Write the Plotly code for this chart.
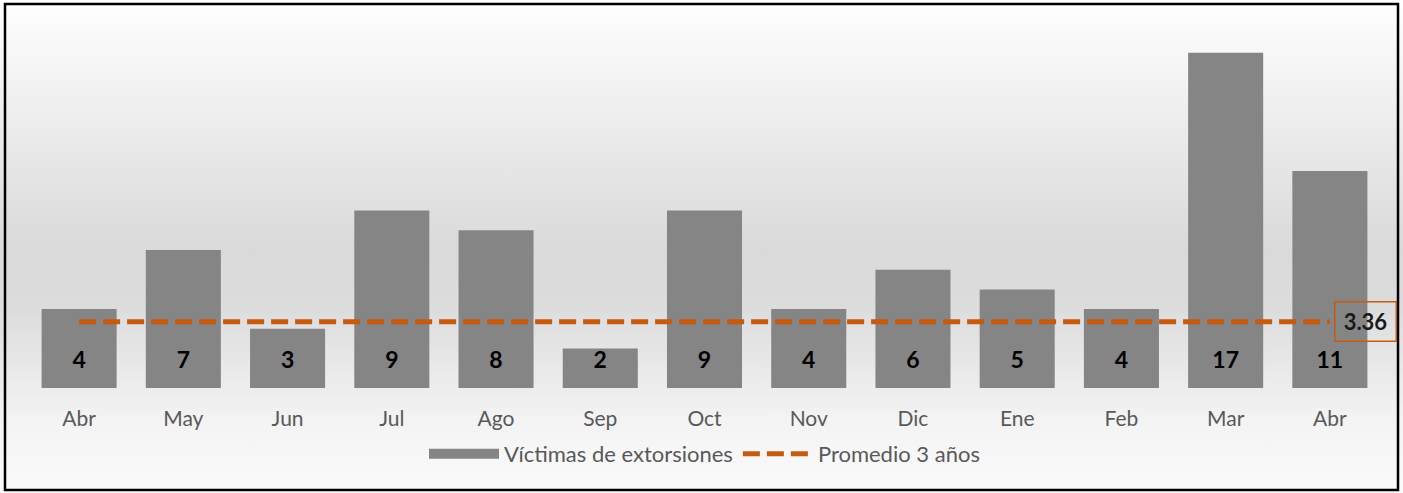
import plotly.graph_objects as go
import urllib.parse

months = ["Abr", "May", "Jun", "Jul", "Ago", "Sep", "Oct", "Nov", "Dic", "Ene", "Feb", "Mar", "Abr"]
victims = [4, 7, 3, 9, 8, 2, 9, 4, 6, 5, 4, 17, 11]
average = 3.36

W, H = 1403, 493
ml, mr, mt, mb = 27, 21, 33, 105
pw, ph = W - ml - mr, H - mt - mb

xs = list(range(len(months)))
GRAY = "#858585"
ORANGE = "#C55A11"

svg = (
    "<svg xmlns='http://www.w3.org/2000/svg' width='1403' height='493' preserveAspectRatio='none'>"
    "<defs><linearGradient id='g' x1='0' y1='0' x2='0' y2='1'>"
    "<stop offset='0' stop-color='#ffffff'/>"
    "<stop offset='0.5' stop-color='#dadada'/>"
    "<stop offset='0.62' stop-color='#dcdcdc'/>"
    "<stop offset='0.85' stop-color='#f3f3f3'/>"
    "<stop offset='1' stop-color='#fbfbfb'/>"
    "</linearGradient></defs>"
    "<rect width='1403' height='493' fill='url(#g)'/></svg>"
)
src = "data:image/svg+xml;charset=utf-8," + urllib.parse.quote(svg)

fig = go.Figure()
fig.add_trace(go.Bar(
    x=xs, y=victims, name="Víctimas de extorsiones",
    marker=dict(color=GRAY, line=dict(width=0)),
    width=0.72, hoverinfo="skip", showlegend=False,
))
fig.add_trace(go.Scatter(
    x=xs, y=[1.32] * len(xs), text=[str(v) for v in victims], mode="text",
    textfont=dict(family="Lato", size=23, color="#000000", weight="bold"),
    showlegend=False, hoverinfo="skip",
))
# legend entry for bars (wide gray swatch)
fig.add_trace(go.Scatter(
    x=[None], y=[None], mode="lines", name="Víctimas de extorsiones",
    line=dict(color=GRAY, width=13),
))
fig.add_trace(go.Scatter(
    x=xs, y=[average] * len(xs), mode="lines", name="Promedio 3 años",
    line=dict(color=ORANGE, width=5, dash="17px,7px"),
    hoverinfo="skip",
))

fig.add_annotation(
    x=xs[-1], y=average, xref="x", yref="y", text="<b>%.2f</b>" % average,
    showarrow=False, xshift=36, font=dict(family="Lato", size=22, color="#1a1a1a"),
    width=46, height=24,
    bordercolor=ORANGE, borderwidth=1.5, borderpad=7, bgcolor="rgba(0,0,0,0)",
)

fig.add_layout_image(dict(
    source=src, xref="paper", yref="paper",
    x=-ml / pw, y=1 + mt / ph, sizex=W / pw, sizey=H / ph,
    sizing="stretch", xanchor="left", yanchor="top", layer="below",
))
fig.add_shape(
    type="rect", xref="paper", yref="paper",
    x0=(5 - ml) / pw, x1=(1398 - ml) / pw,
    y0=(mt + ph - 490) / ph, y1=(mt + ph - 4) / ph,
    line=dict(color="#000000", width=2.5), fillcolor="rgba(0,0,0,0)",
)

fig.update_layout(
    width=W, height=H,
    margin=dict(l=ml, r=mr, t=mt, b=mb),
    paper_bgcolor="rgba(0,0,0,0)", plot_bgcolor="rgba(0,0,0,0)",
    font=dict(family="Lato", color="#595959"),
    xaxis=dict(
        tickmode="array", tickvals=xs, ticktext=months,
        range=[-0.5, len(xs) - 0.5], showgrid=False, zeroline=False,
        showline=False, tickfont=dict(size=21, color="#595959"),
        ticklabelstandoff=16, fixedrange=True,
    ),
    yaxis=dict(range=[0, 18], visible=False, fixedrange=True),
    legend=dict(
        orientation="h", x=0.5, xanchor="center", y=(mt + ph - 454) / ph,
        yanchor="middle", font=dict(size=22, color="#595959"),
        bgcolor="rgba(0,0,0,0)", itemwidth=70,
    ),
    showlegend=True,
)

fig.write_html(
    "out.html",
    config={"displayModeBar": False},
    post_script="document.body.style.margin='0';document.body.style.overflow='hidden';",
)
